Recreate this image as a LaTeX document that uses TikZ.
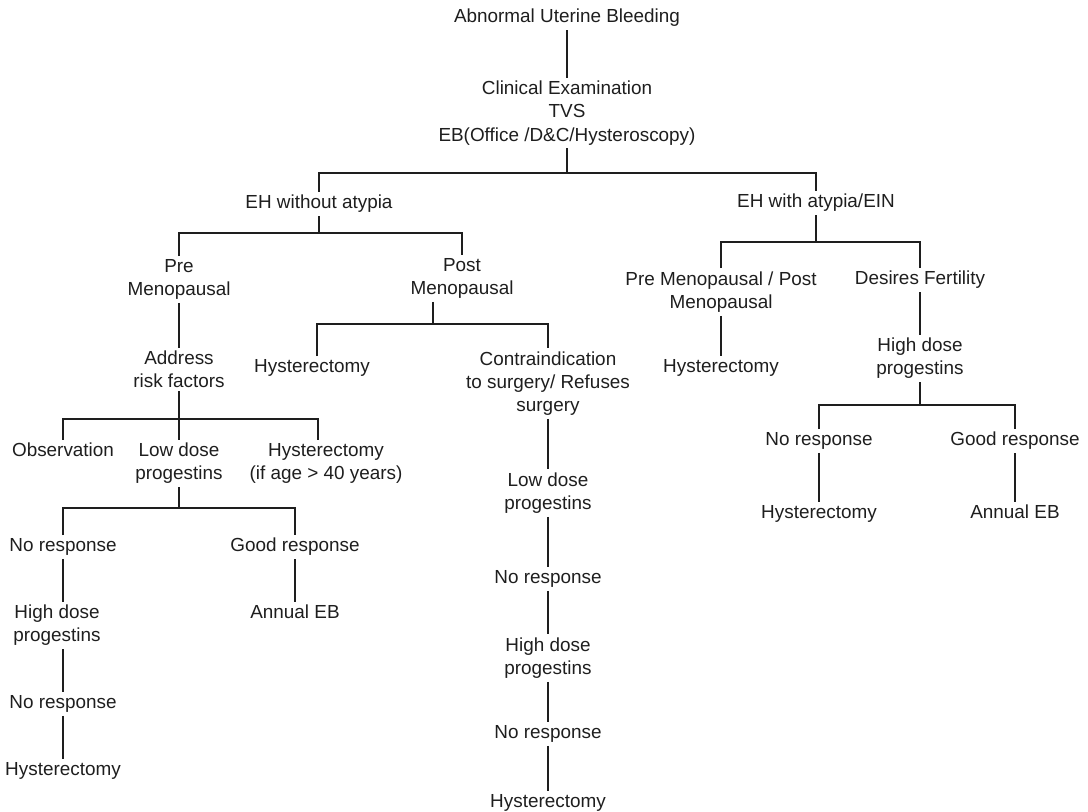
\documentclass[tikz,border=0pt]{standalone}
\usepackage{fontspec}
\setmainfont{Liberation Sans}
\definecolor{inkgray}{RGB}{30,30,30}

\begin{document}
\begin{tikzpicture}[
    x=0.5pt, y=-0.5pt,
    item/.style={align=center,inner sep=1.5pt,text=inkgray,
      font=\fontsize{9.45}{11.6}\selectfont},
    link/.style={draw=inkgray,line width=0.7pt}
  ]
    \useasboundingbox (0,0) rectangle (1088,812);
    \node[item] (bleed) at (567,18) {Abnormal Uterine Bleeding};
    \node[item] (exam) at (567,113) {Clinical Examination\\TVS\\EB(Office /D\&C/Hysteroscopy)};
    \node[item] (ehno) at (319,204) {EH without atypia};
    \node[item] (ehat) at (816,203) {EH with atypia/EIN};
    % without atypia
    \node[item] (pre) at (179,279.5) {Pre\\Menopausal};
    \node[item] (post) at (462,278.5) {Post\\Menopausal};
    \node[item] (addr) at (179,369.5) {Address\\risk factors};
    \node[item] (obs) at (63,450) {Observation};
    \node[item] (low) at (179,463.5) {Low dose\\progestins};
    \node[item] (hage) at (326,463.5) {Hysterectomy\\(if age > 40 years)};
    \node[item] (nr1) at (63,547) {No response};
    \node[item] (gr1) at (295,547) {Good response};
    \node[item] (hd1) at (57,625.5) {High dose\\progestins};
    \node[item] (nr2) at (63,704) {No response};
    \node[item] (hys1) at (63,771) {Hysterectomy};
    \node[item] (aeb1) at (295,612) {Annual EB};
    \node[item] (hys2) at (312,368) {Hysterectomy};
    \node[item] (contra) at (548,383.5) {Contraindication\\to surgery/ Refuses\\surgery};
    \node[item] (low2) at (548,493) {Low dose\\progestins};
    \node[item] (nr3) at (548,579) {No response};
    \node[item] (hd2) at (548,658) {High dose\\progestins};
    \node[item] (nr4) at (548,734) {No response};
    \node[item] (hys3) at (548,803) {Hysterectomy};
    % with atypia
    \node[item] (pmb) at (721,292) {Pre Menopausal / Post\\Menopausal};
    \node[item] (desf) at (920,280) {Desires Fertility};
    \node[item] (hys4) at (721,368) {Hysterectomy};
    \node[item] (hd3) at (920,358.5) {High dose\\progestins};
    \node[item] (nr5) at (819,441) {No response};
    \node[item] (gr2) at (1015,441) {Good response};
    \node[item] (hys5) at (819,514) {Hysterectomy};
    \node[item] (aeb2) at (1015,512) {Annual EB};
    % fork points
    \coordinate (f1) at (567,173);
    \coordinate (f2) at (319,233);
    \coordinate (f3) at (179,419);
    \coordinate (f4) at (179,508);
    \coordinate (f5) at (433,324);
    \coordinate (f6) at (816,242);
    \coordinate (f7) at (920,405);
    \draw[link] (bleed) -- (exam);
    \draw[link] (exam.south) -- (f1);
    \draw[link] (ehno.north) |- (f1) -| (ehat.north);
    \draw[link] (ehno.south) -- (f2);
    \draw[link] (pre.north) |- (f2) -| (post.north);
    \draw[link] (pre) -- (addr);
    \draw[link] (addr.south) -- (f3);
    \draw[link] (obs.north) |- (f3) -| ([xshift=-4pt]hage.north);
    \draw[link] (f3) -- (low.north);
    \draw[link] (low.south) -- (f4);
    \draw[link] (nr1.north) |- (f4) -| (gr1.north);
    \draw[link] (nr1) -- (nr1 |- hd1.north);
    \draw[link] (hd1.south -| nr2) -- (nr2);
    \draw[link] (nr2) -- (hys1);
    \draw[link] (gr1) -- (aeb1);
    \draw[link] (post.south -| f5) -- (f5);
    \draw[link] ([xshift=2.5pt]hys2.north) |- (f5) -| (contra.north);
    \draw[link] (contra) -- (low2);
    \draw[link] (low2) -- (nr3);
    \draw[link] (nr3) -- (hd2);
    \draw[link] (hd2) -- (nr4);
    \draw[link] (nr4) -- (hys3);
    \draw[link] (ehat.south) -- (f6);
    \draw[link] (pmb.north) |- (f6) -| (desf.north);
    \draw[link] (pmb) -- (hys4);
    \draw[link] (desf) -- (hd3);
    \draw[link] (hd3.south) -- (f7);
    \draw[link] (nr5.north) |- (f7) -| (gr2.north);
    \draw[link] (nr5) -- (hys5);
    \draw[link] (gr2) -- (aeb2);
  \end{tikzpicture}
\end{document}
